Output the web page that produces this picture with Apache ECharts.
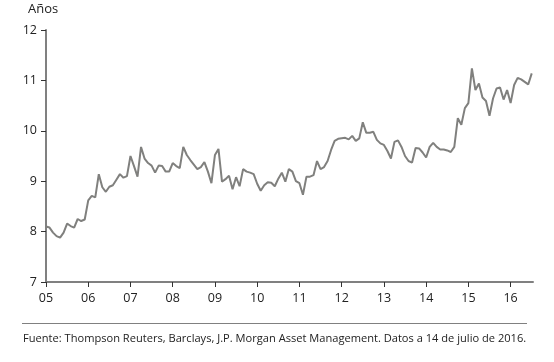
<!DOCTYPE html>
<html><head><meta charset="utf-8">
<script src="https://cdn.jsdelivr.net/npm/echarts@6/dist/echarts.min.js"></script>
<style>html,body{margin:0;padding:0;background:#fff}#c{width:554px;height:362px}</style>
</head><body><div id="c"></div>
<script>
// Monthly series, Jan 2005 .. Jul 2016 (years)
const startYear = 2005;
const values = [
 8.10,8.08,7.98,7.91,7.88,7.98,8.16,8.11,8.08,8.25,8.21,8.24,
 8.62,8.71,8.68,9.14,8.88,8.79,8.89,8.92,9.03,9.14,9.07,9.10,
 9.50,9.30,9.09,9.68,9.45,9.36,9.31,9.17,9.31,9.30,9.19,9.19,
 9.36,9.30,9.26,9.68,9.52,9.42,9.33,9.24,9.28,9.38,9.19,8.96,
 9.52,9.64,8.99,9.04,9.11,8.84,9.08,8.90,9.24,9.19,9.17,9.14,
 8.95,8.81,8.92,8.98,8.97,8.90,9.05,9.17,8.99,9.24,9.19,9.00,
 8.96,8.73,9.09,9.09,9.12,9.40,9.24,9.28,9.40,9.62,9.80,9.84,
 9.85,9.86,9.83,9.90,9.80,9.85,10.17,9.96,9.96,9.98,9.82,9.75,
 9.72,9.60,9.45,9.78,9.81,9.68,9.50,9.40,9.37,9.66,9.65,9.57,
 9.47,9.68,9.76,9.68,9.63,9.63,9.61,9.58,9.68,10.25,10.12,10.45,
 10.55,11.24,10.81,10.94,10.66,10.59,10.30,10.64,10.84,10.86,10.62,10.81,
 10.55,10.91,11.05,11.02,10.97,10.92,11.14
];
const yearTicks = [2005,2006,2007,2008,2009,2010,2011,2012,2013,2014,2015,2016];
const yearLabels = ['05','06','07','08','09','10','11','12','13','14','15','16'];
const yAxisTitle = 'Años';
const sourceText = 'Fuente: Thompson Reuters, Barclays, J.P. Morgan Asset Management. Datos a 14 de julio de 2016.';

const seriesData = values.map((v,i)=>[startYear + i/12, v]);
const font = 'Open Sans';
const txt = '#222';
const axisCol = '#808080';

const chart = echarts.init(document.getElementById('c'), null, {renderer:'canvas'});
chart.setOption({
  animation:false,
  grid:{left:46,right:21,top:30,bottom:80,containLabel:false},
  title:[{text:yAxisTitle,left:23,top:-2,textStyle:{fontFamily:font,fontSize:13,fontWeight:'normal',color:txt}}],
  xAxis:{type:'value',min:2005,max:2016.53,interval:1,
    axisLine:{show:true,lineStyle:{color:axisCol,width:2}},
    axisTick:{show:true,length:5,lineStyle:{color:'#333',width:1},customValues:yearTicks},
    axisLabel:{customValues:yearTicks,formatter:(v)=>{const i=yearTicks.indexOf(Math.round(v));return i>=0?yearLabels[i]:'';},
      fontFamily:font,fontSize:12.5,color:txt,margin:10},
    splitLine:{show:false}},
  yAxis:{type:'value',min:7,max:12,interval:1,
    axisLine:{show:true,lineStyle:{color:axisCol,width:2}},
    axisTick:{show:true,length:5,lineStyle:{color:'#333',width:1}},
    axisLabel:{fontFamily:font,fontSize:12.5,color:txt,margin:9},
    splitLine:{show:false}},
  series:[{type:'line',data:seriesData,showSymbol:false,symbol:'none',
    lineStyle:{color:'#80807e',width:2},smooth:false}],
  graphic:[
    {type:'line',shape:{x1:22,y1:323.5,x2:527,y2:323.5},style:{stroke:'#808080',lineWidth:1}},
    {type:'text',left:23,top:333,style:{text:sourceText,font:'11.1px "Open Sans"',fill:txt}}
  ]
});
</script></body></html>
